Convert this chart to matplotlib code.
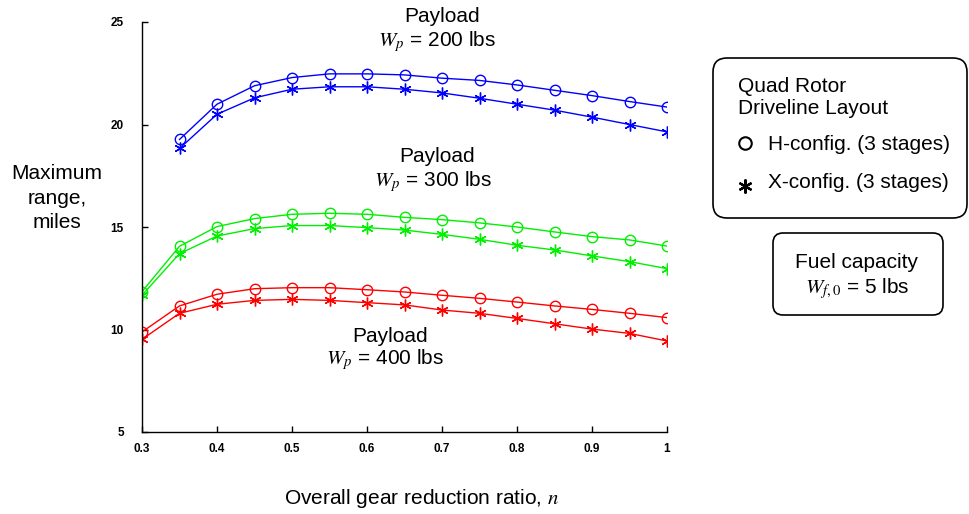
import matplotlib
matplotlib.use("Agg")
import matplotlib.pyplot as plt
from matplotlib.patches import FancyBboxPatch
from matplotlib.lines import Line2D

plt.rcParams["font.family"] = ["Liberation Sans", "DejaVu Sans"]
plt.rcParams["mathtext.fontset"] = "stix"

# Overall gear reduction ratio
n_all = [0.30, 0.35, 0.40, 0.45, 0.50, 0.55, 0.60, 0.65, 0.70, 0.75, 0.80, 0.85, 0.90, 0.95, 1.00]
n_200 = n_all[1:]

# Maximum range (miles), payload 200 lbs
h_200 = [19.27, 20.99, 21.89, 22.29, 22.47, 22.47, 22.42, 22.26, 22.15, 21.93, 21.67, 21.41, 21.12, 20.85]
x_200 = [18.83, 20.50, 21.30, 21.72, 21.84, 21.84, 21.72, 21.54, 21.28, 20.99, 20.70, 20.36, 20.00, 19.64]

# Payload 300 lbs
h_300 = [11.85, 14.06, 15.02, 15.41, 15.62, 15.67, 15.62, 15.47, 15.36, 15.20, 15.00, 14.76, 14.53, 14.37, 14.07]
x_300 = [11.67, 13.70, 14.56, 14.92, 15.07, 15.07, 14.97, 14.85, 14.64, 14.40, 14.11, 13.88, 13.59, 13.31, 12.97]

# Payload 400 lbs
h_400 = [9.88, 11.15, 11.72, 11.99, 12.04, 12.04, 11.94, 11.83, 11.67, 11.52, 11.34, 11.15, 10.98, 10.79, 10.58]
x_400 = [9.52, 10.79, 11.23, 11.42, 11.47, 11.42, 11.31, 11.20, 10.95, 10.79, 10.54, 10.28, 10.02, 9.81, 9.44]

x_ticks = [0.3, 0.4, 0.5, 0.6, 0.7, 0.8, 0.9, 1.0]
x_tick_labels = ["0.3", "0.4", "0.5", "0.6", "0.7", "0.8", "0.9", "1"]
y_ticks = [5, 10, 15, 20, 25]

W, H = 969, 514
fig = plt.figure(figsize=(W / 100, H / 100), dpi=100)
ax = fig.add_axes([142 / W, 1 - 432 / H, (667 - 142) / W, (432 - 22) / H])

ASTER = (6, 2, 0)
series = [
    (n_200, h_200, x_200, "#0000ff"),
    (n_all, h_300, x_300, "#00f000"),
    (n_all, h_400, x_400, "#ff0000"),
]
for n, hv, xv, c in series:
    ax.plot(n, hv, color=c, lw=1.0, marker="o", ms=7.5, mfc="none", mec=c, mew=1.0)
    ax.plot(n, xv, color=c, lw=1.0, marker=ASTER, ms=8.5, mec=c, mew=1.0)

ax.set_xlim(0.3, 1.0)
ax.set_ylim(5, 25)
ax.set_xticks(x_ticks)
ax.set_xticklabels(x_tick_labels)
ax.set_yticks(y_ticks)
for s in ("top", "right"):
    ax.spines[s].set_visible(False)
for s in ("left", "bottom"):
    ax.spines[s].set_linewidth(1.0)
ax.tick_params(axis="both", direction="in", length=4, width=1, labelsize=8.5)
ax.tick_params(axis="y", pad=13)
ax.tick_params(axis="x", pad=8)
for lab in ax.get_xticklabels() + ax.get_yticklabels():
    lab.set_fontweight("bold")

# Overlay in pixel coordinates for annotations
ov = fig.add_axes([0, 0, 1, 1])
ov.set_xlim(0, W)
ov.set_ylim(H, 0)
ov.axis("off")

fs = 15
ov.text(442, 17, "Payload", ha="center", va="center", fontsize=fs)
ov.text(437, 42, r"$W_p$ = 200 lbs", ha="center", va="center", fontsize=fs)
ov.text(437, 157, "Payload", ha="center", va="center", fontsize=fs)
ov.text(433, 182, r"$W_p$ = 300 lbs", ha="center", va="center", fontsize=fs)
ov.text(390, 337, "Payload", ha="center", va="center", fontsize=fs)
ov.text(385, 360, r"$W_p$ = 400 lbs", ha="center", va="center", fontsize=fs)

ov.text(57, 198, "Maximum\nrange,\nmiles", ha="center", va="center", fontsize=fs, linespacing=1.35)
ov.text(422, 499, r"Overall gear reduction ratio, $n$", ha="center", va="center", fontsize=fs)

# Driveline layout box
ov.add_patch(FancyBboxPatch((723, 68), 234, 140, boxstyle="round,pad=10,rounding_size=14",
                            fc="white", ec="black", lw=1.2))
ov.text(738, 86, "Quad Rotor", ha="left", va="center", fontsize=fs)
ov.text(738, 109, "Driveline Layout", ha="left", va="center", fontsize=fs)
ov.add_line(Line2D([745], [143], marker="o", ms=9, mfc="none", mec="black", mew=1.5))
ov.text(768, 145, "H-config. (3 stages)", ha="left", va="center", fontsize=fs)
ov.add_line(Line2D([745], [186], marker=ASTER, ms=10, mec="black", mew=1.6))
ov.text(768, 183, "X-config. (3 stages)", ha="left", va="center", fontsize=fs)

# Fuel capacity box
ov.add_patch(FancyBboxPatch((781, 241), 154, 66, boxstyle="round,pad=8,rounding_size=10",
                            fc="white", ec="black", lw=1.2))
ov.text(857, 263, "Fuel capacity", ha="center", va="center", fontsize=fs)
ov.text(857, 289, r"$W_{f,0}$ = 5 lbs", ha="center", va="center", fontsize=fs)

fig.savefig("out.png", dpi=100)
